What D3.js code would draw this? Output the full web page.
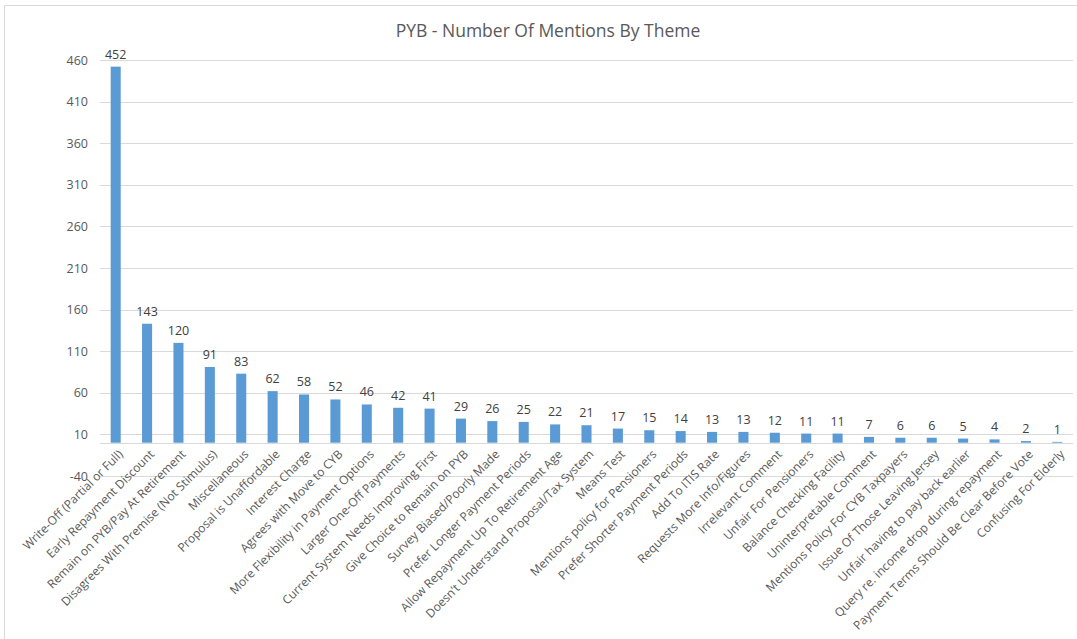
<!doctype html>
<html>
<head>
<meta charset="utf-8">
<title>PYB - Number Of Mentions By Theme</title>
<style>
*{margin:0;padding:0;}
body{background:white;}
text{font-family:"Open Sans",sans-serif;}
</style>
</head>
<body>
<script src="https://cdn.jsdelivr.net/npm/d3@7"></script>
<script>
// themes, in the order they appear
var themes = ["Write-Off (Partial or Full)","Early Repayment Discount","Remain on PYB/Pay At Retirement",
  "Disagrees With Premise (Not Stimulus)","Miscellaneous","Proposal is Unaffordable","Interest Charge",
  "Agrees with Move to CYB","More Flexibility in Payment Options","Larger One-Off Payments",
  "Current System Needs Improving First","Give Choice to Remain on PYB","Survey Biased/Poorly Made",
  "Prefer Longer Payment Periods","Allow Repayment Up To Retirement Age","Doesn\u2019t Understand Proposal/Tax System",
  "Means Test","Mentions policy for Pensioners","Prefer Shorter Payment Periods","Add To ITIS Rate",
  "Requests More Info/Figures","Irrelevant Comment","Unfair For Pensioners","Balance Checking Facility",
  "Uninterpretable Comment","Mentions Policy For CYB Taxpayers","Issue Of Those Leaving Jersey",
  "Unfair having to pay back earlier","Query re. income drop during repayment",
  "Payment Terms Should Be Clear Before Vote","Confusing For Elderly"];
var mentions = [452,143,120,91,83,62,58,52,46,42,41,29,26,25,22,21,17,15,14,13,13,12,11,11,7,6,6,5,4,2,1];
var yTicks = [-40,10,60,110,160,210,260,310,360,410,460];

var W = 1077, H = 639;
var svg = d3.select("body").append("svg").attr("width",W).attr("height",H);

// chart border (only top & left visible in the crop)
svg.append("line").attr("x1",4.5).attr("x2",W).attr("y1",5.5).attr("y2",5.5).attr("stroke","#d9d9d9");
svg.append("line").attr("x1",4.5).attr("x2",4.5).attr("y1",5.5).attr("y2",H).attr("stroke","#d9d9d9");

svg.append("text").attr("x",548).attr("y",37).attr("text-anchor","middle")
  .attr("font-size","17.5px").attr("fill","#595959").text("PYB - Number Of Mentions By Theme");

var x = d3.scaleBand().domain(themes).range([100,1073]).paddingInner(0.68).paddingOuter(0.34);
var y = d3.scaleLinear().domain([-40,460]).range([476,60]);

// gridlines
svg.append("g").selectAll("line").data(yTicks).enter().append("line")
  .attr("x1",100).attr("x2",1073)
  .attr("y1",function(d){return Math.round(y(d))+0.5;})
  .attr("y2",function(d){return Math.round(y(d))+0.5;})
  .attr("stroke","#d9d9d9").attr("stroke-width",1);

// y axis labels
var yAxis = d3.axisLeft(y).tickValues(yTicks).tickSize(0).tickPadding(0)
  .tickFormat(function(d){return String(d);});
var ga = svg.append("g").attr("transform","translate(88,0)").call(yAxis);
ga.select(".domain").remove();
ga.selectAll("text").attr("font-size","12.5px").attr("fill","#595959").attr("font-family","Open Sans, sans-serif");

// bars
svg.append("g").selectAll("rect").data(mentions).enter().append("rect")
  .attr("x",function(d,i){return x(themes[i]);})
  .attr("width",x.bandwidth())
  .attr("y",function(d){return y(d);})
  .attr("height",function(d){return y(0)-y(d);})
  .attr("fill","#5b9bd5");

// zero line
svg.append("line").attr("x1",100).attr("x2",1073)
  .attr("y1",Math.round(y(0))+0.5).attr("y2",Math.round(y(0))+0.5)
  .attr("stroke","#d9d9d9");

// value labels
svg.append("g").selectAll("text").data(mentions).enter().append("text")
  .attr("x",function(d,i){return x(themes[i])+x.bandwidth()/2;})
  .attr("y",function(d){return y(d)-8;})
  .attr("text-anchor","middle").attr("font-size","12.5px").attr("fill","#404040")
  .text(function(d){return d;});

// category labels, rotated
svg.append("g").selectAll("text").data(themes).enter().append("text")
  .attr("transform",function(d){return "translate("+(x(d)+x.bandwidth()/2+5)+",452) rotate(-45)";})
  .attr("text-anchor","end").attr("dy","0.35em")
  .attr("font-size","12px").attr("fill","#595959")
  .text(function(d){return d;});
</script>
</body>
</html>
